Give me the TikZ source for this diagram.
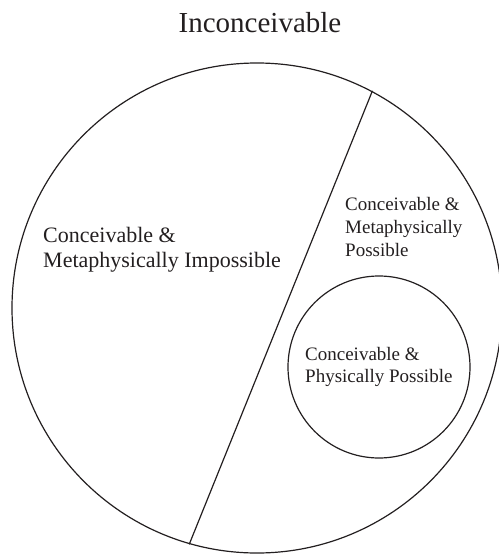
\documentclass[tikz,border=0pt]{standalone}
\usepackage{fontspec}
\setmainfont{Liberation Serif}
\begin{document}
\begin{tikzpicture}[x=1pt, y=-1pt, line cap=round, line join=round]
  \definecolor{ink}{RGB}{35,31,32}
  \tikzset{ring/.style={draw=ink, line width=1.2pt, circle, inner sep=0pt},
           region/.style={ink, inner sep=0pt, anchor=north west, align=left}}
  \useasboundingbox (0,0) rectangle (498,554);
  \node[ink, anchor=base, font=\fontsize{29}{34}\selectfont] (title) at (260,32) {Inconceivable};
  \node[ring, minimum size=490pt] (world) at (257,308) {};
  \node[ring, minimum size=182pt] (phys) at (379,367) {};
  \draw[ink, line width=1.2pt] (world.62.7) -- (world.254.1);
  \node[region, font=\fontsize{22}{25}\selectfont] (impossible) at (43,227)
    {Conceivable \&\\Metaphysically Impossible};
  \node[region, font=\fontsize{19}{23}\selectfont] (metaposs) at (345,197)
    {Conceivable \&\\Metaphysically\\Possible};
  \node[region, font=\fontsize{19}{22}\selectfont] (physposs) at (305,347)
    {Conceivable \&\\Physically Possible};
\end{tikzpicture}
\end{document}
